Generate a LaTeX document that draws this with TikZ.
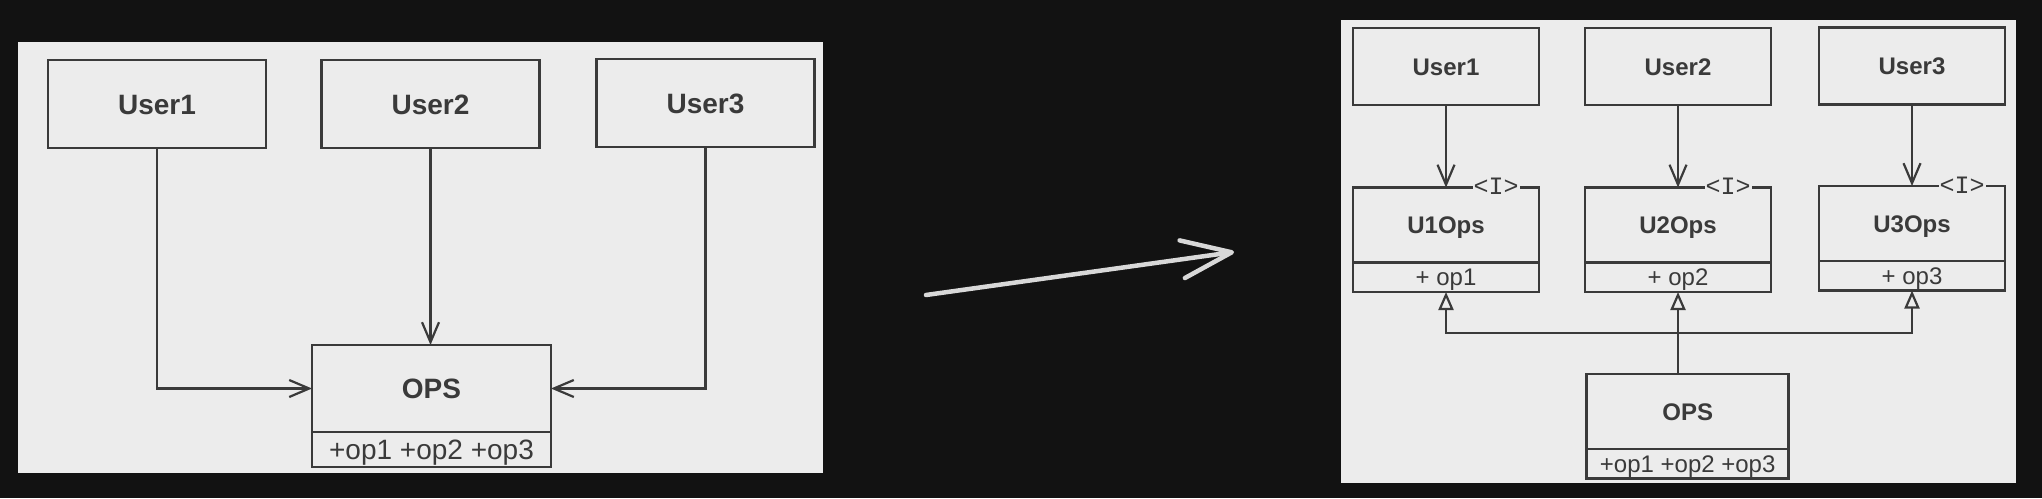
\documentclass[tikz,border=0pt]{standalone}
\usepackage{fontspec}
\setmainfont{Liberation Sans}
\newfontfamily\stereofont{Liberation Mono}
\usetikzlibrary{positioning,arrows.meta}
\definecolor{outerbg}{HTML}{121212}
\definecolor{panelbg}{HTML}{ECECEC}
\definecolor{ink}{HTML}{3A3A3A}
\definecolor{chalk}{HTML}{D8D8D8}
\tikzset{
  box/.style={draw=ink, line width=2.6pt, fill=panelbg, text=ink, inner sep=0pt, outer sep=0pt},
  lusr/.style={box, minimum width=218pt, minimum height=88pt, font=\fontsize{28}{30}\selectfont\bfseries, text height=20pt, text depth=0pt},
  lcls/.style={lusr, minimum width=239pt, minimum height=87pt},
  lmeth/.style={box, minimum width=239pt, minimum height=35pt, font=\fontsize{28}{30}\selectfont, text height=20pt, text depth=0pt},
  rusr/.style={box, minimum width=186pt, minimum height=77pt, font=\fontsize{24}{26}\selectfont\bfseries, text height=17pt, text depth=0pt},
  rcls/.style={rusr, minimum height=75pt},
  rmeth/.style={box, minimum width=186pt, minimum height=29.5pt, font=\fontsize{24}{26}\selectfont, text height=17pt, text depth=0pt},
  stereo/.style={fill=panelbg, text=ink, inner sep=1pt, font=\stereofont\fontsize{25}{27}\selectfont},
  dep/.style={draw=ink, line width=2.2pt, -{Straight Barb[length=20pt,width=17pt]}},
  realize/.style={draw=ink, line width=2.2pt, -{Triangle[open,length=18pt,width=15pt,fill=panelbg]}},
}

\begin{document}
\begin{tikzpicture}[x=1pt,y=-1pt]
\fill[outerbg] (0,0) rectangle (2042,498);
\useasboundingbox (0,0) rectangle (2042,498);

% before
\fill[panelbg] (18,42) rectangle (823,473);
\node[lusr] (user1) at (157,104) {User1};
\node[lusr] (user2) at (430.5,104) {User2};
\node[lusr] (user3) at (705.5,103) {User3};
\node[lcls] (ops) at (431.5,388.5) {OPS};
\node[lmeth, below=0pt of ops] (opsm) {+op1 +op2 +op3};

\draw[dep] (user1.south) |- (ops.west);
\draw[dep] (user2.south) -- (user2.south |- ops.north);
\draw[dep] (user3.south) |- (ops.east);

% refactor arrow
\coordinate (tail) at (926,295);
\coordinate (tip) at (1234,252);
\draw[chalk, line width=4.5pt, line cap=round, -{Straight Barb[length=50pt,width=38pt,round]}] (tail) -- (tip);

% after
\fill[panelbg] (1341,20) rectangle (2016,483);
\node[rusr] (ruser1) at (1446,66.5) {User1};
\node[rusr] (ruser2) at (1678,66.5) {User2};
\node[rusr] (ruser3) at (1912,66) {User3};

\node[rcls] (u1ops) at (1446,225) {U1Ops};
\node[rmeth, below=0pt of u1ops] (u1m) {+ op1};
\node[rcls] (u2ops) at (1678,225) {U2Ops};
\node[rmeth, below=0pt of u2ops] (u2m) {+ op2};
\node[rcls] (u3ops) at (1912,223.5) {U3Ops};
\node[rmeth, below=0pt of u3ops] (u3m) {+ op3};
\node[stereo] (u1i) at ([xshift=-43pt,yshift=1pt]u1ops.north east) {<I>};
\node[stereo] (u2i) at ([xshift=-43pt,yshift=1pt]u2ops.north east) {<I>};
\node[stereo] (u3i) at ([xshift=-43pt,yshift=1pt]u3ops.north east) {<I>};

\node[rcls, minimum width=202pt] (rops) at (1687.7,411.5) {OPS};
\node[rmeth, minimum width=202pt, below=0pt of rops] (ropsm) {+op1 +op2 +op3};

\draw[dep] (ruser1) -- (u1ops);
\draw[dep] (ruser2) -- (u2ops);
\draw[dep] (ruser3) -- (u3ops);

\coordinate (bus) at (1678,333);
\draw[realize] (u2m.south |- rops.north) -- (u2m.south);
\draw[realize] (bus) -| (u1m.south);
\draw[realize] (bus) -| (u3m.south);
\end{tikzpicture}
\end{document}
